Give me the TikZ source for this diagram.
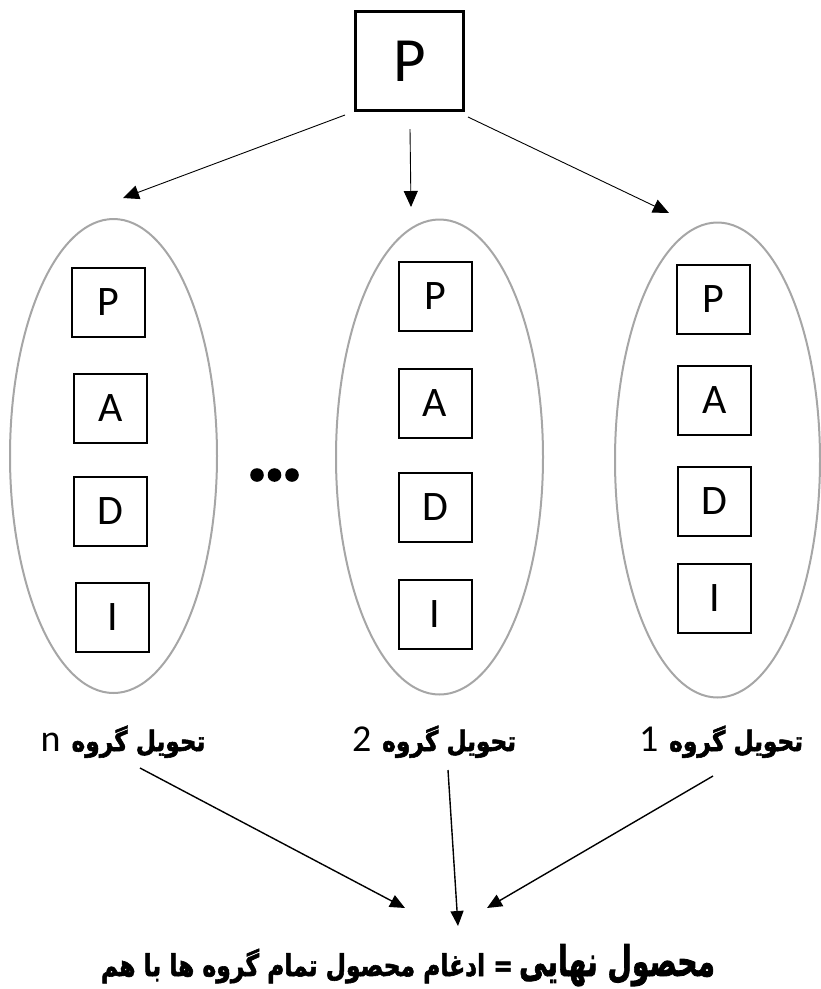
\documentclass[tikz,border=0pt]{standalone}
\usepackage{fontspec}
\usepackage{graphicx}
\setmainfont{Carlito}
\newfontfamily\arabicfont[Script=Arabic, FakeBold=2]{DejaVu Sans Bold}
\TeXXeTstate=1
\usetikzlibrary{arrows.meta,shapes.geometric}
\newcommand\numsize{\fontsize{38}{40}\selectfont}
% caption of one delivery group: number on the left, Persian words on the right
\newcommand\grpcaption[1]{{\numsize #1}\hspace{11pt}\scalebox{0.83}[1]{\arabicfont\fontsize{28}{32}\selectfont\beginR تحويل گروه\endR}}

\begin{document}
\begin{tikzpicture}[x=1pt,y=-1pt,
  topbox/.style={draw, line width=2.6pt, minimum width=108pt, minimum height=99pt,
    inner sep=0pt, font=\fontsize{63}{70}\selectfont},
  phase/.style={draw, line width=2pt, minimum width=73pt, minimum height=69pt,
    inner sep=0pt, font=\fontsize{42}{50}\selectfont},
  group/.style={ellipse, draw=black!35, line width=2pt, inner sep=0pt},
  split/.style={line width=0.9pt, -{Triangle[length=16pt, width=14pt]}},
  merge/.style={line width=1.4pt, -{Triangle[length=15pt, width=13pt]}},
  grplabel/.style={inner sep=0pt, anchor=base}
]
\useasboundingbox (0,0) rectangle (821,989);

% source package
\node[topbox] (src) at (409.5,61) {P};

% the three delivery groups
\node[group, minimum width=207pt, minimum height=474pt] (gn) at (113.5,456) {};
\node[group, minimum width=207pt, minimum height=475pt] (g2) at (439.5,457) {};
\node[group, minimum width=205pt, minimum height=475pt] (g1) at (717.5,460) {};

% phases inside group n
\node[phase] (nP) at (108.5,302.5) {P};
\node[phase] (nA) at (110.5,408.5) {A};
\node[phase] (nD) at (110.5,511.5) {D};
\node[phase] (nI) at (112.5,617.5) {I};

% phases inside group 2
\node[phase] (tP) at (435,296) {P};
\node[phase] (tA) at (435,403.5) {A};
\node[phase] (tD) at (435,507.5) {D};
\node[phase] (tI) at (435,614) {I};

% phases inside group 1
\node[phase] (oP) at (713,299) {P};
\node[phase] (oA) at (714.5,400) {A};
\node[phase] (oD) at (714.5,501.5) {D};
\node[phase] (oI) at (714.5,598.5) {I};

% ellipsis between the groups
\foreach \x in {257,274.5,292}
  \fill (\x,475) circle (6.8pt);

% group captions
\node[grplabel] (ln) at (123,751) {\grpcaption{n}};
\node[grplabel] (l2) at (434,751) {\grpcaption{2}};
\node[grplabel] (l1) at (721,751) {\grpcaption{1}};

% final product: the heading part sits on the right, its definition on the left
\node[grplabel] (final) at (408,976) {\arabicfont
  \scalebox{0.78}[1]{\fontsize{30}{34}\selectfont\beginR = ادغام محصول تمام  گروه ها با هم\endR}%
  \hspace{6pt}%
  \scalebox{0.67}[1]{\fontsize{42}{46}\selectfont\beginR محصول نهایی\endR}};

% arrow end points
\coordinate (sL) at (345,115);
\coordinate (sM) at (410,129);
\coordinate (sR) at (468,117);
\coordinate (tL) at (123,198);
\coordinate (tM) at (411,207);
\coordinate (tR) at (669,213);

\coordinate (mL) at (140,768);
\coordinate (mM) at (448,770);
\coordinate (mR) at (713,776);
\coordinate (eL) at (405,908);
\coordinate (eM) at (458,926);
\coordinate (eR) at (487,908);

\draw[split] (sL) -- (tL);
\draw[split] (sM) -- (tM);
\draw[split] (sR) -- (tR);

\draw[merge] (mL) -- (eL);
\draw[merge] (mM) -- (eM);
\draw[merge] (mR) -- (eR);
\end{tikzpicture}
\end{document}
